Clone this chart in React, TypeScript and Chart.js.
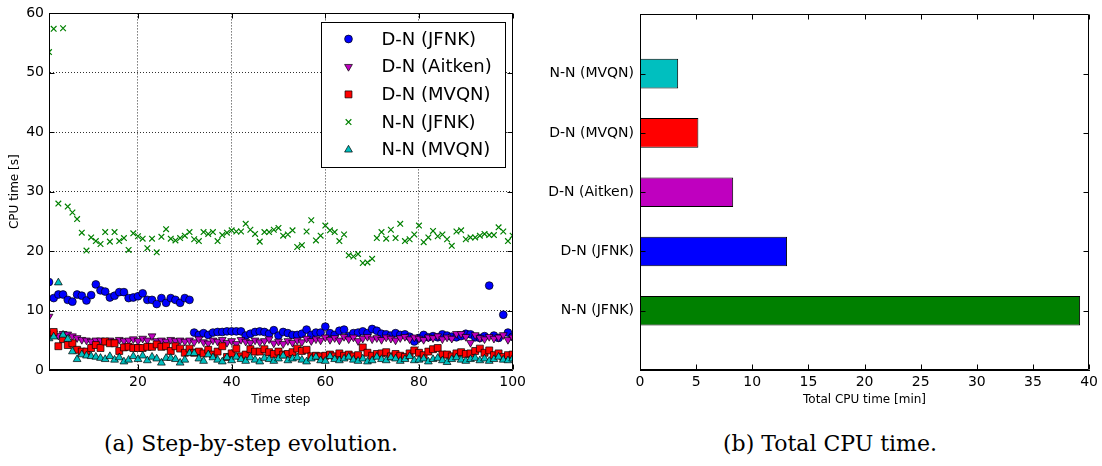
import React, { useEffect, useRef } from 'react';
import { Chart, registerables } from 'chart.js';

Chart.register(...registerables);

// ---------------- DATA ----------------
const TIME_STEPS = [
  1, 2, 3, 4, 5, 6, 7, 8, 9, 10, 11, 12, 13, 14, 15, 16, 17, 18, 19, 20,
  21, 22, 23, 24, 25, 26, 27, 28, 29, 30, 31, 32, 33, 34, 35, 36, 37, 38, 39, 40,
  41, 42, 43, 44, 45, 46, 47, 48, 49, 50, 51, 52, 53, 54, 55, 56, 57, 58, 59, 60,
  61, 62, 63, 64, 65, 66, 67, 68, 69, 70, 71, 72, 73, 74, 75, 76, 77, 78, 79, 80,
  81, 82, 83, 84, 85, 86, 87, 88, 89, 90, 91, 92, 93, 94, 95, 96, 97, 98, 99, 100,
];

const DN_JFNK = [
  14.8, 12.1, 12.7, 12.7, 11.8, 11.5, 12.7, 12.5, 11.7, 12.6,
  14.4, 13.4, 13.2, 12.2, 12.5, 13.1, 13.1, 12.1, 12.2, 12.4,
  12.9, 11.8, 11.8, 11.1, 12.1, 11.3, 12.1, 11.8, 11.3, 12.1,
  11.8, 6.3, 5.9, 6.2, 5.9, 6.3, 6.4, 6.4, 6.5, 6.5,
  6.5, 6.5, 5.8, 6.1, 6.4, 6.5, 6.4, 6.1, 6.7, 5.8,
  6.4, 6.2, 5.9, 5.9, 6.1, 6.8, 5.9, 6.3, 6.3, 7.3,
  6.2, 5.9, 6.6, 6.8, 5.7, 6.2, 6.3, 6.5, 6.2, 6.9,
  6.6, 6.1, 6.0, 5.8, 6.2, 5.9, 6.0, 5.6, 4.8, 5.4,
  5.9, 5.5, 5.7, 5.5, 6.0, 5.8, 5.6, 5.5, 5.7, 6.1,
  6.0, 5.5, 5.4, 5.7, 14.2, 5.8, 5.4, 9.3, 6.3, 5.6,
];

const DN_AITKEN = [
  9.0, 6.2, 5.8, 6.1, 6.0, 5.7, 5.4, 5.1, 5.0, 4.8,
  5.0, 5.0, 4.9, 5.0, 4.8, 5.1, 4.9, 5.0, 5.2, 4.9,
  5.3, 5.0, 5.7, 4.9, 5.0, 4.8, 5.1, 4.9, 5.0, 4.8,
  5.0, 4.7, 5.2, 4.7, 4.5, 5.0, 4.8, 5.1, 4.6, 4.9,
  4.4, 5.1, 4.8, 4.6, 5.0, 4.7, 4.9, 5.2, 4.5, 4.8,
  4.4, 4.9, 4.6, 5.0, 4.7, 5.3, 4.9, 5.2, 5.0, 5.5,
  5.1, 5.4, 5.0, 5.6, 5.2, 5.5, 4.9, 5.3, 5.6, 5.2,
  5.4, 5.1, 5.5, 5.3, 5.0, 5.4, 5.6, 5.2, 5.5, 5.3,
  5.1, 5.5, 5.4, 5.7, 5.2, 5.5, 5.3, 6.1, 6.1, 5.6,
  4.6, 5.9, 5.4, 5.2, 5.6, 5.3, 5.5, 5.9, 5.1, 5.5,
];

const DN_MVQN = [
  5.9, 6.4, 4.0, 5.2, 4.2, 4.5, 3.4, 3.1, 3.1, 3.7,
  4.2, 3.7, 4.8, 4.5, 4.5, 3.2, 3.8, 3.9, 3.7, 3.7,
  3.7, 3.9, 3.9, 4.3, 3.9, 4.0, 3.2, 4.0, 3.6, 2.9,
  3.6, 2.9, 3.1, 2.8, 3.4, 2.6, 3.1, 4.0, 2.2, 2.8,
  3.6, 2.3, 2.6, 3.5, 3.1, 3.1, 3.5, 3.0, 2.7, 3.1,
  2.6, 2.7, 3.0, 3.6, 3.2, 3.4, 2.3, 2.4, 2.3, 2.4,
  2.6, 2.3, 2.8, 2.4, 2.6, 2.3, 2.5, 3.8, 2.9, 2.4,
  2.7, 2.8, 3.0, 2.3, 2.7, 2.4, 2.2, 2.8, 3.3, 2.9,
  2.5, 3.1, 3.5, 3.7, 2.6, 2.6, 2.3, 2.8, 3.0, 2.7,
  2.8, 3.2, 3.6, 2.9, 3.3, 2.5, 2.8, 2.2, 2.5, 2.6,
];

const NN_JFNK = [
  53.5, 57.4, 28.0, 57.5, 27.5, 26.5, 25.4, 23.1, 20.1, 22.3,
  21.7, 21.2, 23.2, 21.6, 23.2, 21.7, 22.2, 20.2, 23.0, 22.5,
  22.1, 20.5, 22.1, 19.8, 22.4, 23.7, 22.1, 21.8, 22.2, 22.6,
  23.2, 22.0, 21.7, 23.2, 22.9, 23.2, 21.7, 22.7, 23.1, 23.5,
  23.3, 23.3, 24.6, 23.6, 22.9, 21.6, 23.2, 23.2, 23.6, 23.9,
  22.6, 22.8, 23.5, 20.7, 21.0, 23.3, 25.2, 21.8, 22.6, 24.3,
  23.5, 23.2, 21.7, 22.8, 19.3, 19.1, 19.5, 18.0, 18.1, 18.7,
  22.2, 23.2, 22.1, 23.6, 22.2, 24.6, 21.7, 22.0, 22.8, 24.3,
  21.5, 22.3, 23.4, 22.5, 22.8, 22.0, 20.9, 23.3, 23.5, 22.0,
  22.3, 22.3, 22.6, 22.9, 22.7, 22.7, 24.0, 23.3, 21.7, 22.6,
];

const NN_MVQN = [
  5.3, 5.6, 14.7, 5.9, 5.2, 3.1, 1.8, 2.6, 2.4, 2.3,
  2.2, 2.0, 1.8, 2.3, 1.7, 2.1, 1.4, 1.7, 2.3, 1.8,
  2.4, 1.6, 2.2, 1.9, 1.2, 2.0, 2.0, 1.8, 1.2, 1.7,
  2.8, 2.8, 1.9, 1.5, 2.6, 2.1, 1.7, 1.4, 2.1, 1.6,
  2.2, 1.8, 1.5, 2.1, 1.7, 1.4, 2.0, 1.8, 1.5, 1.9,
  2.4, 1.6, 1.9, 2.1, 1.7, 1.4, 1.9, 2.2, 1.6, 1.5,
  2.3, 1.8, 1.6, 1.9, 2.2, 1.7, 1.5, 1.9, 1.4, 1.6,
  2.2, 1.8, 1.6, 2.1, 1.9, 1.5, 1.8, 2.3, 1.6, 1.7,
  1.9, 1.4, 1.8, 2.0, 1.6, 1.3, 1.8, 2.1, 1.7, 1.5,
  1.8, 2.0, 1.6, 1.9, 1.5, 1.8, 2.2, 1.7, 1.6, 1.9,
];

const SERIES_NAMES = ['D-N (JFNK)', 'D-N (Aitken)', 'D-N (MVQN)', 'N-N (JFNK)', 'N-N (MVQN)'];
const SERIES_VALUES = [DN_JFNK, DN_AITKEN, DN_MVQN, NN_JFNK, NN_MVQN];

const X_TICKS = [20, 40, 60, 80, 100];
const Y_TICKS = [0, 10, 20, 30, 40, 50, 60];

const BAR_LABELS = ['N-N (MVQN)', 'D-N (MVQN)', 'D-N (Aitken)', 'D-N (JFNK)', 'N-N (JFNK)'];
const BAR_VALUES = [3.4, 5.2, 8.3, 13.1, 39.2];
const BAR_TICKS = [0, 5, 10, 15, 20, 25, 30, 35, 40];

const CAPTION_A = '(a) Step-by-step evolution.';
const CAPTION_B = '(b) Total CPU time.';

// ---------------- STYLES ----------------
const FONT = 'DejaVu Sans';
const SERIES_STYLES = [
  { color: '#0000ff', style: 'circle', radius: 3.9, rotation: 0, border: '#000000', bw: 0.7 },
  { color: '#bf00bf', style: 'triangle', radius: 4.5, rotation: 180, border: '#000000', bw: 0.7 },
  { color: '#ff0000', style: 'rect', radius: 4.9, rotation: 0, border: '#000000', bw: 0.7 },
  { color: '#008000', style: 'crossRot', radius: 4.0, rotation: 0, border: '#008000', bw: 1.2 },
  { color: '#00bfbf', style: 'triangle', radius: 4.5, rotation: 0, border: '#000000', bw: 0.7 },
];
const BAR_COLORS = ['#00bfbf', '#ff0000', '#bf00bf', '#0000ff', '#008000'];

function drawMarker(ctx: CanvasRenderingContext2D, st: any, x: number, y: number) {
  ctx.save();
  ctx.fillStyle = st.color;
  ctx.strokeStyle = st.border;
  ctx.lineWidth = st.bw;
  ctx.beginPath();
  const r = st.radius;
  if (st.style === 'circle') {
    ctx.arc(x, y, r, 0, Math.PI * 2);
  } else if (st.style === 'rect') {
    const s = r * Math.SQRT1_2;
    ctx.rect(x - s, y - s, 2 * s, 2 * s);
  } else if (st.style === 'triangle') {
    const rot = (st.rotation * Math.PI) / 180;
    for (let k = 0; k < 3; k++) {
      const a = rot + (k * 2 * Math.PI) / 3;
      const px = x + Math.sin(a) * r;
      const py = y - Math.cos(a) * r;
      if (k === 0) ctx.moveTo(px, py);
      else ctx.lineTo(px, py);
    }
    ctx.closePath();
  } else if (st.style === 'crossRot') {
    const d = r * Math.SQRT1_2;
    ctx.moveTo(x - d, y - d);
    ctx.lineTo(x + d, y + d);
    ctx.moveTo(x - d, y + d);
    ctx.lineTo(x + d, y - d);
  }
  if (st.style !== 'crossRot') ctx.fill();
  ctx.stroke();
  ctx.restore();
}

// frame + inward ticks (matplotlib style)
const framePlugin = {
  id: 'mplFrame',
  afterDraw(chart: any) {
    const { ctx, chartArea: a } = chart;
    const L = Math.round(a.left) + 0.5;
    const R = Math.round(a.right) - 0.5;
    const T = Math.round(a.top) + 0.5;
    const B = Math.round(a.bottom) - 0.5;
    const len = 5;
    ctx.save();
    ctx.strokeStyle = '#000';
    ctx.lineWidth = 1;
    ctx.beginPath();
    ctx.rect(L, T, R - L, B - T);
    const xs = chart.scales.x;
    xs.ticks.forEach((t: any, i: number) => {
      if (t.label === '' || t.label == null) return;
      const px = Math.round(xs.getPixelForTick(i)) + 0.5;
      ctx.moveTo(px, B);
      ctx.lineTo(px, B - len);
      ctx.moveTo(px, T);
      ctx.lineTo(px, T + len);
    });
    const ys = chart.scales.y;
    ys.ticks.forEach((t: any, i: number) => {
      if (t.label === '' || t.label == null) return;
      const py = Math.round(ys.getPixelForTick(i)) + 0.5;
      ctx.moveTo(L, py);
      ctx.lineTo(L + len, py);
      ctx.moveTo(R, py);
      ctx.lineTo(R - len, py);
    });
    ctx.stroke();
    ctx.restore();
  },
};

const legendPlugin = {
  id: 'mplLegend',
  afterDraw(chart: any) {
    const { ctx, chartArea: a } = chart;
    const w = 184;
    const h = 145;
    const left = Math.round(a.right - 192) + 0.5;
    const top = Math.round(a.top + 9) + 0.5;
    ctx.save();
    ctx.fillStyle = '#fff';
    ctx.fillRect(left, top, w, h);
    ctx.strokeStyle = '#000';
    ctx.lineWidth = 1;
    ctx.strokeRect(left, top, w, h);
    ctx.font = `18px "${FONT}"`;
    ctx.fillStyle = '#000';
    ctx.textBaseline = 'middle';
    ctx.textAlign = 'left';
    SERIES_NAMES.forEach((name, i) => {
      const y = top + 16.5 + i * 27.7;
      drawMarker(ctx, SERIES_STYLES[i], left + 27, y);
      ctx.fillStyle = '#000';
      ctx.fillText(name, left + 60, y + 1);
    });
    ctx.restore();
  },
};

function LeftChart() {
  const ref = useRef<HTMLCanvasElement>(null);
  useEffect(() => {
    const datasets = SERIES_NAMES.map((name, si) => {
      const st = SERIES_STYLES[si];
      const vals = SERIES_VALUES[si];
      return {
        label: name,
        data: TIME_STEPS.map((t, i) => ({ x: t, y: vals[i] })).filter((p) => p.y != null),
        pointStyle: st.style,
        pointRadius: st.radius,
        pointRotation: st.rotation,
        pointBackgroundColor: st.color,
        pointBorderColor: st.border,
        pointBorderWidth: st.bw,
        backgroundColor: st.color,
        borderColor: st.border,
        showLine: false,
        clip: 0,
        order: SERIES_NAMES.length - si,
      };
    });
    const chart = new Chart(ref.current as HTMLCanvasElement, {
      type: 'scatter',
      data: { datasets },
      options: {
        animation: false,
        responsive: false,
        devicePixelRatio: 1,
        layout: { padding: { top: 7, right: 13, left: 0, bottom: 0 } },
        plugins: { legend: { display: false }, tooltip: { enabled: false } },
        scales: {
          x: {
            type: 'linear',
            min: 1,
            max: 100,
            afterBuildTicks: (s: any) => {
              s.ticks = X_TICKS.map((v) => ({ value: v }));
            },
            afterFit: (s: any) => {
              s.height = 50;
            },
            grid: { color: 'rgba(0,0,0,0.9)', lineWidth: 0.9, drawTicks: false },
            border: { display: true, color: '#000', width: 1, dash: [1, 2] },
            ticks: { color: '#000', font: { family: FONT, size: 14 }, padding: 4, maxRotation: 0 },
            title: {
              display: true,
              text: 'Time step',
              color: '#000',
              font: { family: FONT, size: 12 },
              padding: { top: 0, bottom: 13 },
            },
          },
          y: {
            type: 'linear',
            min: 0,
            max: 60,
            afterBuildTicks: (s: any) => {
              s.ticks = Y_TICKS.map((v) => ({ value: v }));
            },
            afterFit: (s: any) => {
              s.width = 49;
            },
            grid: { color: 'rgba(0,0,0,0.9)', lineWidth: 0.9, drawTicks: false },
            border: { display: true, color: '#000', width: 1, dash: [1, 2] },
            ticks: { color: '#000', font: { family: FONT, size: 14 }, padding: 5 },
            title: {
              display: true,
              text: 'CPU time [s]',
              color: '#000',
              font: { family: FONT, size: 12 },
              padding: { top: 8, bottom: 0 },
            },
          },
        },
      },
      plugins: [framePlugin, legendPlugin],
    } as any);
    return () => chart.destroy();
  }, []);
  return <canvas ref={ref} width={530} height={420} style={{ display: 'block' }} />;
}

function RightChart() {
  const ref = useRef<HTMLCanvasElement>(null);
  useEffect(() => {
    const labels = ['', ...BAR_LABELS, ''];
    const chart = new Chart(ref.current as HTMLCanvasElement, {
      type: 'bar',
      data: {
        labels,
        datasets: [
          {
            label: 'Total CPU time',
            data: [null, ...BAR_VALUES, null],
            backgroundColor: ['#fff', ...BAR_COLORS, '#fff'],
            borderColor: '#000',
            borderWidth: 1,
            borderSkipped: false,
            barPercentage: 0.5,
            categoryPercentage: 1,
          },
        ],
      },
      options: {
        indexAxis: 'y',
        animation: false,
        responsive: false,
        devicePixelRatio: 1,
        layout: { padding: { top: 7, right: 12, left: 0, bottom: 0 } },
        plugins: { legend: { display: false }, tooltip: { enabled: false } },
        scales: {
          x: {
            type: 'linear',
            min: 0,
            max: 40,
            afterBuildTicks: (s: any) => {
              s.ticks = BAR_TICKS.map((v) => ({ value: v }));
            },
            afterFit: (s: any) => {
              s.height = 50;
            },
            grid: { display: false, drawTicks: false },
            border: { display: true, color: '#000', width: 1 },
            ticks: { color: '#000', font: { family: FONT, size: 14 }, padding: 4, maxRotation: 0 },
            title: {
              display: true,
              text: 'Total CPU time [min]',
              color: '#000',
              font: { family: FONT, size: 12 },
              padding: { top: 0, bottom: 13 },
            },
          },
          y: {
            type: 'category',
            offset: false,
            afterFit: (s: any) => {
              s.width = 100;
            },
            grid: { display: false, drawTicks: false, offset: false },
            border: { display: true, color: '#000', width: 1 },
            ticks: { color: '#000', font: { family: FONT, size: 14 }, padding: 6, autoSkip: false },
          },
        },
      },
      plugins: [framePlugin],
    } as any);
    return () => chart.destroy();
  }, []);
  return <canvas ref={ref} width={562} height={420} style={{ display: 'block' }} />;
}

export default function App() {
  const captionStyle: React.CSSProperties = {
    position: 'absolute',
    top: 429,
    textAlign: 'center',
    fontFamily: '"DejaVu Serif", serif',
    fontSize: 22,
    lineHeight: '30px',
    color: '#000',
    whiteSpace: 'nowrap',
  };
  return (
    <div
      style={{
        position: 'absolute',
        left: 0,
        top: 0,
        width: 1102,
        height: 466,
        background: '#fff',
        overflow: 'hidden',
      }}
    >
      <div style={{ position: 'absolute', left: 0, top: 0, width: 530, height: 420 }}>
        <LeftChart />
      </div>
      <div style={{ position: 'absolute', left: 540, top: 0, width: 562, height: 420 }}>
        <RightChart />
      </div>
      <div style={{ ...captionStyle, left: 0, width: 502 }}>{CAPTION_A}</div>
      <div style={{ ...captionStyle, left: 560, width: 540 }}>{CAPTION_B}</div>
    </div>
  );
}
